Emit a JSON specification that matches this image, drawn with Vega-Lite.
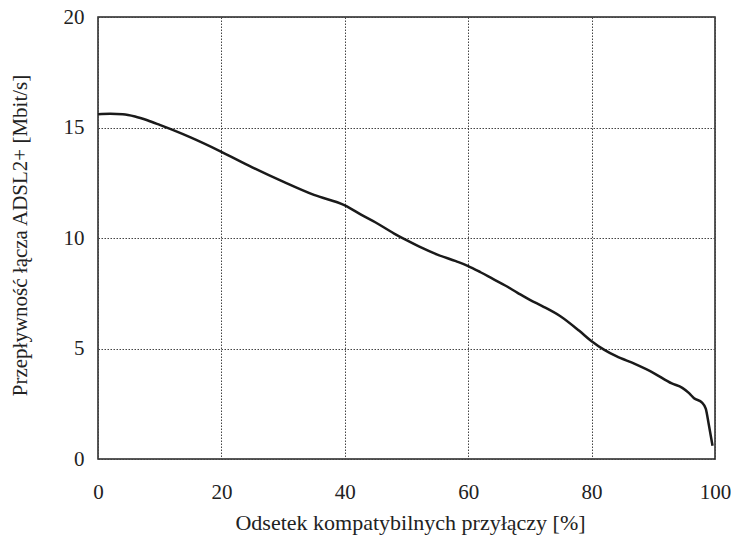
{
  "$schema": "https://vega.github.io/schema/vega-lite/v6.json",
  "width": 617,
  "height": 442,
  "autosize": "none",
  "padding": {"left": 98, "top": 17, "right": 16, "bottom": 77},
  "background": "white",
  "config": {
    "font": "Liberation Serif",
    "view": {"stroke": "#222222", "strokeWidth": 1.5},
    "axis": {
      "domain": false,
      "ticks": false,
      "grid": true,
      "gridColor": "#444444",
      "gridDash": [1.5, 1.5],
      "gridWidth": 1,
      "labelFlush": false,
      "labelFont": "Liberation Serif",
      "labelFontSize": 21,
      "labelColor": "#222222",
      "titleFont": "Liberation Serif",
      "titleFontSize": 22,
      "titleFontWeight": "normal",
      "titleColor": "#222222"
    }
  },
  "data": {
    "values": [
      {"x": 0, "y": 15.6},
      {"x": 2, "y": 15.62},
      {"x": 4, "y": 15.6},
      {"x": 6, "y": 15.5},
      {"x": 8, "y": 15.33},
      {"x": 10, "y": 15.12},
      {"x": 12, "y": 14.9},
      {"x": 15, "y": 14.55},
      {"x": 20, "y": 13.9},
      {"x": 25, "y": 13.2},
      {"x": 30, "y": 12.55},
      {"x": 35, "y": 11.95},
      {"x": 40, "y": 11.48},
      {"x": 43, "y": 11.0},
      {"x": 45, "y": 10.7},
      {"x": 48, "y": 10.2},
      {"x": 50, "y": 9.9},
      {"x": 52, "y": 9.62},
      {"x": 55, "y": 9.25},
      {"x": 58, "y": 8.95},
      {"x": 60, "y": 8.73},
      {"x": 62, "y": 8.45},
      {"x": 64, "y": 8.15},
      {"x": 66, "y": 7.85},
      {"x": 68, "y": 7.52},
      {"x": 70, "y": 7.2},
      {"x": 72, "y": 6.92},
      {"x": 75, "y": 6.45},
      {"x": 78, "y": 5.8},
      {"x": 80, "y": 5.33},
      {"x": 82, "y": 4.95},
      {"x": 84, "y": 4.65},
      {"x": 87, "y": 4.3},
      {"x": 90, "y": 3.9},
      {"x": 93, "y": 3.42},
      {"x": 94.7, "y": 3.22},
      {"x": 95.8, "y": 2.98},
      {"x": 96.6, "y": 2.75},
      {"x": 97.9, "y": 2.55},
      {"x": 98.5, "y": 2.28},
      {"x": 99, "y": 1.55},
      {"x": 99.6, "y": 0.6}
    ]
  },
  "mark": {"type": "line", "color": "#1a1a1a", "strokeWidth": 2.5, "interpolate": "monotone"},
  "encoding": {
    "x": {
      "field": "x",
      "type": "quantitative",
      "scale": {"domain": [0, 100], "nice": false},
      "axis": {"values": [0, 20, 40, 60, 80, 100], "title": "Odsetek kompatybilnych przyłączy [%]", "labelPadding": 22, "titlePadding": 10, "titleX": 312}
    },
    "y": {
      "field": "y",
      "type": "quantitative",
      "scale": {"domain": [0, 20], "nice": false},
      "axis": {"values": [0, 5, 10, 15, 20], "title": "Przepływność łącza ADSL2+ [Mbit/s]", "labelPadding": 14, "titlePadding": 33, "titleFontSize": 21, "titleY": 218}
    }
  }
}
